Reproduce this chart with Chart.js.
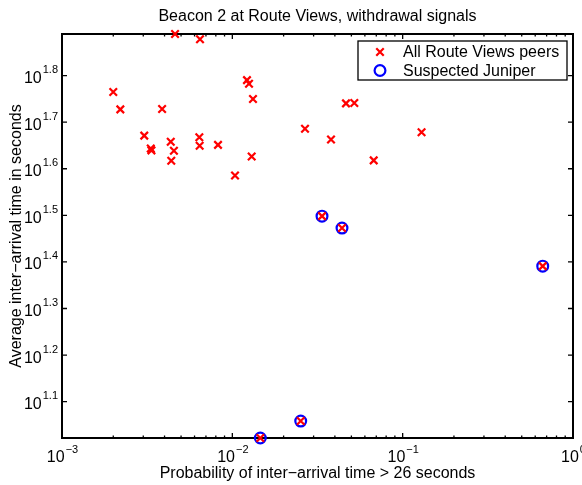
<!DOCTYPE html>
<html>
<head>
<meta charset="utf-8">
<script src="https://cdn.jsdelivr.net/npm/chart.js@4/dist/chart.umd.min.js"></script>
<style>
  html, body { margin: 0; padding: 0; background: #ffffff; }
  canvas { display: block; }
</style>
</head>
<body>
<canvas id="chart" width="582" height="485"></canvas>
<script>
// Route Views peers that do not look like Juniper routers
const otherPeersX = [0.00461, 0.00646, 0.00200, 0.01219, 0.01253, 0.01322, 0.00220, 0.00387,
                     0.00304, 0.00332, 0.00335, 0.00435, 0.00454, 0.00438, 0.00640, 0.00643,
                     0.00824, 0.01299, 0.01037, 0.02671, 0.03796, 0.04648, 0.05200, 0.06761, 0.1291];
const otherPeersY = [77.5, 75.5, 58.2, 61.7, 60.6, 56.2, 53.4, 53.5,
                     46.9, 44.0, 43.6, 45.5, 43.5, 41.4, 46.5, 44.6,
                     44.8, 42.3, 38.5, 48.5, 46.0, 55.0, 55.1, 41.5, 47.7];
// Peers suspected to be Juniper routers
const juniperX = [0.03361, 0.04404, 0.01460, 0.02520, 0.6641];
const juniperY = [31.5, 29.7, 10.52, 11.44, 24.6];

const seriesLabels = ['All Route Views peers', 'Suspected Juniper'];
const xTickExponents = [-3, -2, -1, 0];
const yTickExponents = [1.1, 1.2, 1.3, 1.4, 1.5, 1.6, 1.7, 1.8];
const titleText = 'Beacon 2 at Route Views, withdrawal signals';
const xAxisTitle = 'Probability of inter\u2212arrival time > 26 seconds';
const yAxisTitle = 'Average inter\u2212arrival time in seconds';

const FONT = '"Liberation Sans", Arial, Helvetica, sans-serif';
const RED = '#ff0000';
const BLUE = '#0000ff';

const allPeersX = otherPeersX.concat(juniperX);
const allPeersY = otherPeersY.concat(juniperY);
const toPoints = (xs, ys) => xs.map((x, i) => ({ x: x, y: ys[i] }));

const expText = e => String(e).replace('-', '\u2212');

// Matlab-like box with inward ticks and 10^n tick labels
const axesBox = {
  id: 'axesBox',
  beforeDatasetsDraw(chart) {
    const ctx = chart.ctx;
    const { left, right, top, bottom } = chart.chartArea;
    const xs = chart.scales.x, ys = chart.scales.y;
    ctx.save();
    ctx.strokeStyle = '#000';
    ctx.lineWidth = 1.3;
    // x ticks, major and minor, on bottom and top
    for (let d = -3; d <= 0; d++) {
      const px = xs.getPixelForValue(Math.pow(10, d));
      ctx.beginPath();
      ctx.moveTo(px, bottom); ctx.lineTo(px, bottom - 5);
      ctx.moveTo(px, top); ctx.lineTo(px, top + 5);
      ctx.stroke();
      if (d < 0) {
        for (let k = 2; k <= 9; k++) {
          const mx = xs.getPixelForValue(k * Math.pow(10, d));
          ctx.beginPath();
          ctx.moveTo(mx, bottom); ctx.lineTo(mx, bottom - 2.5);
          ctx.moveTo(mx, top); ctx.lineTo(mx, top + 2.5);
          ctx.stroke();
        }
      }
    }
    // y ticks on left and right
    yTickExponents.forEach(e => {
      const py = ys.getPixelForValue(Math.pow(10, e));
      ctx.beginPath();
      ctx.moveTo(left, py); ctx.lineTo(left + 5, py);
      ctx.moveTo(right, py); ctx.lineTo(right - 5, py);
      ctx.stroke();
    });
    // frame
    ctx.lineWidth = 2;
    ctx.strokeRect(left, top, right - left, bottom - top);

    // tick labels
    ctx.fillStyle = '#000';
    ctx.textBaseline = 'alphabetic';
    const baseFont = '16px ' + FONT;
    const supFont = '11px ' + FONT;
    xTickExponents.forEach(e => {
      const px = xs.getPixelForValue(Math.pow(10, e));
      ctx.font = baseFont;
      const wb = ctx.measureText('10').width;
      ctx.font = supFont;
      const ws = ctx.measureText(expText(e)).width;
      const x0 = px - (wb + ws) / 2;
      ctx.textAlign = 'left';
      ctx.font = baseFont;
      ctx.fillText('10', x0, bottom + 24);
      ctx.font = supFont;
      ctx.fillText(expText(e), x0 + wb + 1, bottom + 15);
    });
    yTickExponents.forEach(e => {
      const py = ys.getPixelForValue(Math.pow(10, e));
      ctx.font = supFont;
      const ws = ctx.measureText(expText(e)).width;
      ctx.font = baseFont;
      const wb = ctx.measureText('10').width;
      const xr = left - 4;
      ctx.textAlign = 'left';
      ctx.font = baseFont;
      ctx.fillText('10', xr - ws - wb - 1, py + 7.5);
      ctx.font = supFont;
      ctx.fillText(expText(e), xr - ws, py - 2.5);
    });
    ctx.restore();
  }
};

// Legend in the upper right corner of the plot
const boxLegend = {
  id: 'boxLegend',
  afterDraw(chart) {
    const ctx = chart.ctx;
    const x0 = 358, y0 = 41, w = 209, h = 39;
    ctx.save();
    ctx.fillStyle = '#fff';
    ctx.fillRect(x0, y0, w, h);
    ctx.strokeStyle = '#000';
    ctx.lineWidth = 1.3;
    ctx.strokeRect(x0, y0, w, h);
    chart.data.datasets.forEach((ds, i) => {
      const cy = y0 + 11 + i * 18.5;
      const cx = x0 + 22;
      ctx.strokeStyle = ds.borderColor;
      ctx.lineWidth = ds.borderWidth;
      ctx.beginPath();
      if (ds.pointStyle === 'crossRot') {
        const a = ds.pointRadius * Math.SQRT1_2;
        ctx.moveTo(cx - a, cy - a); ctx.lineTo(cx + a, cy + a);
        ctx.moveTo(cx - a, cy + a); ctx.lineTo(cx + a, cy - a);
      } else {
        ctx.arc(cx, cy, ds.pointRadius, 0, Math.PI * 2);
      }
      ctx.stroke();
      ctx.fillStyle = '#000';
      ctx.font = '16px ' + FONT;
      ctx.textAlign = 'left';
      ctx.textBaseline = 'middle';
      ctx.fillText(ds.label, x0 + 45, cy + 1);
    });
    ctx.restore();
  }
};

new Chart(document.getElementById('chart'), {
  type: 'scatter',
  data: {
    datasets: [
      {
        label: seriesLabels[0],
        data: toPoints(allPeersX, allPeersY),
        pointStyle: 'crossRot',
        pointRadius: 5.3,
        pointHoverRadius: 5.3,
        borderColor: RED,
        backgroundColor: RED,
        borderWidth: 2.2,
        clip: false
      },
      {
        label: seriesLabels[1],
        data: toPoints(juniperX, juniperY),
        pointStyle: 'circle',
        pointRadius: 5.4,
        pointHoverRadius: 5.4,
        borderColor: BLUE,
        backgroundColor: 'rgba(0,0,0,0)',
        borderWidth: 2.2,
        clip: false
      }
    ]
  },
  options: {
    responsive: false,
    animation: false,
    devicePixelRatio: 1,
    layout: { padding: { left: 0, right: 9, top: 0, bottom: 0 } },
    plugins: {
      legend: { display: false },
      tooltip: { enabled: false },
      title: {
        display: true,
        text: titleText,
        fullSize: false,
        color: '#000',
        font: { family: FONT, size: 16, weight: 'normal' },
        padding: { top: 7, bottom: 7.8 }
      }
    },
    scales: {
      x: {
        type: 'logarithmic',
        min: Math.pow(10, xTickExponents[0]),
        max: Math.pow(10, xTickExponents[xTickExponents.length - 1]),
        grid: { display: false },
        border: { display: false },
        ticks: { display: false },
        title: {
          display: true,
          text: xAxisTitle,
          color: '#000',
          font: { family: FONT, size: 16 },
          padding: { top: 0, bottom: 2 }
        },
        afterFit(scale) { scale.height = 47; }
      },
      y: {
        type: 'logarithmic',
        min: Math.min(...allPeersY),
        max: Math.max(...allPeersY),
        grid: { display: false },
        border: { display: false },
        ticks: { display: false },
        title: {
          display: true,
          text: yAxisTitle,
          color: '#000',
          font: { family: FONT, size: 16 },
          padding: { top: 7.4, bottom: 0 }
        },
        afterFit(scale) { scale.width = 62; }
      }
    }
  },
  plugins: [axesBox, boxLegend]
});
</script>
</body>
</html>
